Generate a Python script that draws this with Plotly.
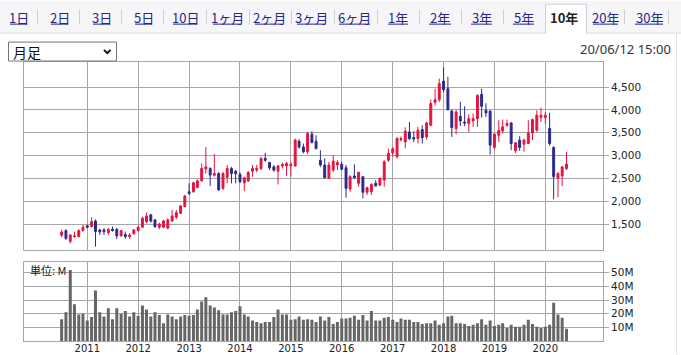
import plotly.graph_objects as go
import pandas as pd

# ---------------- data ----------------
months = pd.date_range("2010-07-01", periods=120, freq="MS").strftime("%Y-%m-%d").tolist()

open_ = [1260, 1360, 1125, 1225, 1230, 1360, 1465, 1450, 1570, 1375,
         1375, 1315, 1390, 1390, 1245, 1275, 1230, 1290, 1360, 1435,
         1555, 1705, 1595, 1435, 1435, 1415, 1570, 1655, 1740, 1885,
         2210, 2210, 2305, 2450, 2710, 2720, 2570, 2610, 2285, 2530,
         2720, 2660, 2590, 2405, 2445, 2660, 2685, 2720, 2940, 2850,
         2755, 2660, 2775, 2775, 2775, 2775, 3315, 3190, 3085, 3470,
         3315, 2900, 2795, 2505, 2685, 2795, 2810, 2735, 2270, 2555,
         2395, 2540, 2200, 2210, 2395, 2355, 2465, 2900, 3060, 2975,
         3350, 3300, 3520, 3395, 3375, 3570, 3410, 3665, 4165, 4225,
         4630, 4465, 3975, 3595, 3860, 3735, 3700, 3760, 3810, 4340,
         3990, 3975, 3180, 3445, 3540, 3665, 3715, 3105, 3340, 3250,
         3265, 3495, 3555, 3835, 3835, 3595, 3180, 2505, 2555, 2720]
high = [1375, 1390, 1280, 1340, 1390, 1485, 1495, 1655, 1605, 1400,
        1415, 1415, 1450, 1415, 1375, 1340, 1305, 1390, 1465, 1665,
        1755, 1725, 1615, 1535, 1595, 1630, 1810, 1810, 1920, 2140,
        2395, 2430, 2480, 2830, 3190, 2745, 3035, 2640, 2645, 2795,
        2755, 2685, 2635, 2540, 2660, 2795, 2795, 2975, 3060, 2865,
        2795, 2795, 2850, 2865, 2865, 3375, 3360, 3265, 3520, 3535,
        3445, 3120, 2940, 2865, 3010, 2900, 2865, 2795, 2575, 2810,
        2645, 2545, 2320, 2395, 2465, 2515, 2900, 3155, 3190, 3410,
        3420, 3620, 3735, 3540, 3630, 3665, 3735, 4225, 4465, 4685,
        4935, 4725, 4005, 4005, 4175, 4080, 3905, 3920, 4340, 4465,
        4145, 3990, 3495, 3775, 3790, 3790, 3735, 3300, 3425, 3375,
        3775, 3810, 3990, 4050, 3955, 3940, 3205, 2640, 2770, 3085]
low = [1215, 1160, 1075, 1210, 1210, 1340, 1410, 1430, 1010, 1265,
       1265, 1260, 1340, 1175, 1230, 1180, 1180, 1275, 1340, 1415,
       1520, 1535, 1415, 1390, 1415, 1390, 1555, 1610, 1725, 1870,
       2140, 2190, 2285, 2430, 2610, 2335, 2540, 2235, 2250, 2395,
       2395, 2395, 2395, 2225, 2430, 2540, 2635, 2685, 2865, 2685,
       2645, 2370, 2720, 2560, 2540, 2755, 3155, 3050, 3035, 3265,
       3135, 2755, 2505, 2490, 2645, 2685, 2685, 2080, 2210, 2505,
       2320, 2065, 2140, 2140, 2320, 2340, 2320, 2865, 2975, 2940,
       3310, 3160, 3340, 3300, 3265, 3265, 3355, 3645, 4100, 4175,
       4390, 3990, 3410, 3470, 3645, 3645, 3520, 3630, 3630, 3835,
       3845, 3025, 3135, 3300, 3485, 3630, 3120, 3060, 3105, 3085,
       3250, 3340, 3520, 3735, 3700, 3220, 2045, 2090, 2335, 2685]
close = [1330, 1185, 1265, 1240, 1360, 1435, 1435, 1555, 1340, 1330,
         1340, 1390, 1360, 1245, 1360, 1230, 1265, 1375, 1435, 1630,
         1680, 1570, 1450, 1505, 1570, 1595, 1680, 1755, 1900, 2115,
         2175, 2405, 2450, 2720, 2755, 2575, 2610, 2250, 2610, 2720,
         2610, 2605, 2430, 2515, 2635, 2720, 2720, 2940, 2900, 2735,
         2685, 2775, 2810, 2830, 2810, 3340, 3190, 3085, 3485, 3290,
         3155, 2795, 2515, 2795, 2880, 2850, 2705, 2285, 2540, 2515,
         2635, 2200, 2300, 2370, 2340, 2505, 2865, 3050, 3150, 3375,
         3375, 3535, 3375, 3365, 3555, 3395, 3715, 4140, 4225, 4575,
         4445, 4005, 3615, 3955, 3760, 3715, 3810, 3810, 4320, 4080,
         3935, 3230, 3470, 3555, 3630, 3700, 3265, 3280, 3180, 3340,
         3495, 3790, 3885, 3885, 3885, 3265, 2540, 2610, 2755, 2815]
volume_m = [16, 21, 52, 27, 19.5, 20, 15, 17.5, 37, 21,
            18, 24, 16, 24, 20, 22, 18, 21, 18.5, 26,
            23, 18, 21, 19, 13, 19.5, 18, 16, 18, 19,
            18.5, 19, 23, 29, 32, 26, 24.5, 22.5, 19.5, 19.5,
            21, 22, 25.5, 19.5, 18, 15, 14, 13, 14, 14,
            17.5, 23, 19.5, 19.5, 15.5, 16, 18, 15.5, 16, 15.5,
            14, 18, 15, 17.5, 12.5, 14, 16.5, 16.5, 17, 18.5,
            15.5, 19, 15, 22, 15, 15, 17, 17.5, 15.5, 14,
            16.5, 15.5, 15.5, 14, 14, 12.5, 13, 13, 15, 12,
            13, 18, 18.5, 13, 13, 12.5, 11, 12, 13, 16,
            12, 15, 11, 12, 13, 9.5, 12, 10.5, 10.5, 12,
            15.5, 12.5, 10.5, 9.5, 10.5, 12, 28, 19.5, 17, 9]

year_ticks = ["2011-01-01", "2012-01-01", "2013-01-01", "2014-01-01", "2015-01-01",
              "2016-01-01", "2017-01-01", "2018-01-01", "2019-01-01", "2020-01-01"]
year_labels = ["2011", "2012", "2013", "2014", "2015", "2016", "2017", "2018", "2019", "2020"]
price_ticks = [1500, 2000, 2500, 3000, 3500, 4000, 4500]
price_labels = ["1,500", "2,000", "2,500", "3,000", "3,500", "4,000", "4,500"]
vol_ticks = [10, 20, 30, 40, 50]
vol_labels = ["10M", "20M", "30M", "40M", "50M"]

tab_labels = ["1日", "2日", "3日", "5日", "10日", "1ヶ月", "2ヶ月", "3ヶ月", "6ヶ月",
              "1年", "2年", "3年", "5年", "10年", "20年", "30年"]
selected_tab = "10年"
period_label = "月足"
timestamp = "20/06/12 15:00"
unit_label = "単位: M"

# ---------------- geometry / style ----------------
W, H = 681, 355
ML, MR, MT, MB = 24, 78, 61.5, 13.5
PW = W - ML - MR
PH = H - MT - MB


def fx(px):
    return (px - ML) / PW


def fy(py):
    return (H - MB - py) / PH


RED = "#e5153f"
BLUE = "#2b2a8c"
GRID = "#a6a6a6"
LINK = "#26258a"
TXT = "#333333"
AXFONT = dict(family="DejaVu Sans", size=10.5, color="#222222")

fig = go.Figure()
fig.add_trace(go.Candlestick(
    x=months, open=open_, high=high, low=low, close=close,
    increasing=dict(line=dict(color=RED, width=1), fillcolor=RED),
    decreasing=dict(line=dict(color=BLUE, width=1), fillcolor=BLUE),
    whiskerwidth=0, xaxis="x", yaxis="y", showlegend=False,
))
fig.add_trace(go.Bar(
    x=months, y=volume_m, marker=dict(color="#666666", line=dict(width=0)),
    width=1.85e9, xaxis="x2", yaxis="y2", showlegend=False,
))

xrange_ = ["2009-10-04", "2021-02-18"]
common_x = dict(type="date", range=xrange_, showgrid=True, gridcolor=GRID, gridwidth=1,
                tickmode="array", tickvals=year_ticks, ticktext=year_labels, showline=True,
                mirror=True, linecolor=GRID, linewidth=1, zeroline=False, ticks="",
                fixedrange=True, automargin=False)
common_y = dict(side="right", showgrid=True, gridcolor=GRID, gridwidth=1, showline=True,
                mirror=True, linecolor=GRID, linewidth=1, ticks="outside", ticklen=5,
                tickcolor=GRID, zeroline=False, tickfont=AXFONT, fixedrange=True,
                tickmode="array", automargin=False)

fig.update_layout(
    width=W, height=H, margin=dict(l=ML, r=MR, t=MT, b=MB, pad=0, autoexpand=False),
    paper_bgcolor="white", plot_bgcolor="white", showlegend=False,
    xaxis=dict(common_x, anchor="y", showticklabels=False, rangeslider=dict(visible=False)),
    xaxis2=dict(common_x, anchor="y2", matches="x", showticklabels=True,
                tickfont=dict(family="DejaVu Sans", size=10, color="#222222"),
                ticklabelstandoff=-2),
    yaxis=dict(common_y, domain=[fy(250.5), 1], range=[929, 5049],
               tickvals=price_ticks, ticktext=price_labels),
    yaxis2=dict(common_y, domain=[0, fy(262.5)], range=[0, 57.7],
                tickvals=vol_ticks, ticktext=vol_labels),
    bargap=0.2,
)

shapes = []
annotations = []


def prect(x0, y0, x1, y1, **kw):
    shapes.append(dict(type="rect", xref="paper", yref="paper", x0=fx(x0), x1=fx(x1),
                       y0=fy(y0), y1=fy(y1), **kw))


def pline(x0, y0, x1, y1, color, width=1):
    shapes.append(dict(type="line", xref="paper", yref="paper", x0=fx(x0), x1=fx(x1),
                       y0=fy(y0), y1=fy(y1), line=dict(color=color, width=width)))


def ptext(text, x, y, xanchor="center", size=13, color=TXT, family="Noto Sans CJK JP", bold=False):
    annotations.append(dict(text=("<b>%s</b>" % text) if bold else text, xref="paper", yref="paper",
                            x=fx(x), y=fy(y), xanchor=xanchor, yanchor="middle", showarrow=False,
                            font=dict(family=family, size=size, color=color), borderpad=0))


# tab bar background
prect(0, 0, W, 32.5, fillcolor="#f6f6f8", line=dict(width=0), layer="below")
pline(0, 32.5, W, 32.5, "#dcdce2")
# content box right border
pline(676.5, 32.5, 676.5, H, "#e2e2e2")

tab_spans = [(10, 27), (51, 68), (93, 110), (135, 152), (173, 197), (213, 241), (255, 283),
             (297, 325), (339, 370), (388, 408), (429, 451), (471, 492), (513, 534),
             (551, 577), (593, 618), (635, 663)]
separators = [37.5, 79.5, 121.5, 163.5, 206.5, 249.5, 291.5, 334.5, 377.5, 419.5, 461.5,
              503.5, 624.5, 668.5]
for sx in separators:
    pline(sx, 9, sx, 24, "#d0d0d0")

for lab, (a, b) in zip(tab_labels, tab_spans):
    cx = (a + b) / 2
    if lab == selected_tab:
        prect(545.5, 3.5, 586.5, 33.5, fillcolor="white", line=dict(width=0))
        shapes.append(dict(type="path", xref="paper", yref="paper",
                           path="M %f,%f L %f,%f L %f,%f L %f,%f" % (
                               fx(545.5), fy(33), fx(545.5), fy(3.5), fx(586.5), fy(3.5), fx(586.5), fy(33)),
                           line=dict(color="#cfcfd6", width=1)))
        ptext(lab, cx, 17, size=13, color="#222222", bold=True)
    else:
        ptext(lab, cx, 16.5, size=13, color=LINK)
        pline(a, 23.5, b, 23.5, LINK, 1)

# dropdown
prect(8.5, 41.5, 116.5, 60.5, fillcolor="white", line=dict(color="#767676", width=1))
ptext(period_label, 12, 51.5, xanchor="left", size=14, color="#111111")
shapes.append(dict(type="path", xref="paper", yref="paper",
                   path="M %f,%f L %f,%f L %f,%f" % (fx(104), fy(49.3), fx(107.3), fy(52.6), fx(110.6), fy(49.3)),
                   line=dict(color="#111111", width=2)))

# timestamp
ptext(timestamp, 672, 48, xanchor="right", size=13, color=TXT, family="Noto Sans")

# unit label in volume panel
ptext(unit_label, 29, 270.5, xanchor="left", size=11, color="#222222")

fig.update_layout(shapes=shapes, annotations=annotations)
fig.write_html("out.html")
